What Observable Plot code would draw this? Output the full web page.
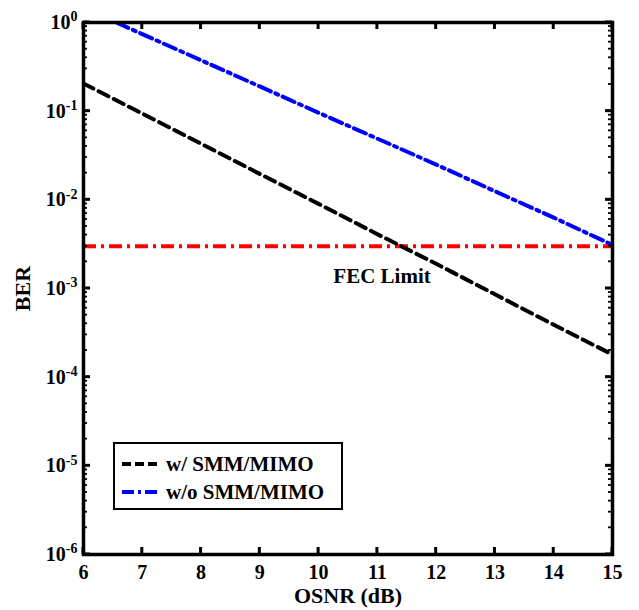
<!DOCTYPE html>
<html>
<head>
<meta charset="utf-8">
<script src="https://cdn.jsdelivr.net/npm/d3@7"></script>
<script src="https://cdn.jsdelivr.net/npm/@observablehq/plot@0.6"></script>
<style>
  body { margin: 0; background: #fff; }
  #chart svg { display: block; }
</style>
</head>
<body>
<div id="chart"></div>
<script>
// OSNR (dB) values
const osnrWith = [6, 7, 8, 9, 10, 11, 12, 13, 14, 15];
// BER with SMM/MIMO (black dashed)
const berWith = [0.205, 0.094, 0.043, 0.0196, 0.009, 0.0041, 0.0019, 8.6e-4, 3.9e-4, 1.8e-4];
// BER without SMM/MIMO (blue dash-dot)
const osnrWithout = [6.56, 7, 8, 9, 10, 11, 12, 13, 14, 15];
const berWithout = [1.0, 0.74, 0.375, 0.19, 0.096, 0.049, 0.025, 0.0125, 0.0063, 0.0031];
// FEC limit
const fecLimit = 3.0e-3;
const fecLabel = "FEC Limit";
const fecLabelOsnr = 10.25;
// Series names
const seriesNames = ["w/ SMM/MIMO", "w/o SMM/MIMO"];
// Tick values
const xTicks = [6, 7, 8, 9, 10, 11, 12, 13, 14, 15];
const yExponents = [-6, -5, -4, -3, -2, -1, 0];
const yMinorMultipliers = [2, 3, 4, 5, 6, 7, 8, 9];

const yTicks = yExponents.map(e => Math.pow(10, e));
const yMinor = yExponents.slice(0, -1).flatMap(e => yMinorMultipliers.map(m => m * Math.pow(10, e)));

const withData = osnrWith.map((x, i) => ({x, y: berWith[i]}));
const withoutData = osnrWithout.map((x, i) => ({x, y: berWithout[i]}));

const W = 639, H = 610, mL = 83, mR = 27, mT = 22, mB = 56;
const majorLen = 7, minorLen = 4;

const font = "'Liberation Serif', 'Times New Roman', serif";
const dashBlack = "11,6";
const dashDot = "13,5,3,5";

const plot = Plot.plot({
  width: W,
  height: H,
  marginLeft: mL,
  marginRight: mR,
  marginTop: mT,
  marginBottom: mB,
  style: {fontFamily: font, fontWeight: "bold", fontSize: "20px", background: "#fff", color: "#000"},
  x: {domain: [6, 15]},
  y: {type: "log", domain: [1e-6, 1]},
  marks: [
    Plot.ruleY([fecLimit], {stroke: "#ff0000", strokeWidth: 4, strokeDasharray: dashDot}),
    Plot.line(withoutData, {x: "x", y: "y", stroke: "#0000ff", strokeWidth: 4, strokeDasharray: dashDot, clip: true}),
    Plot.line(withData, {x: "x", y: "y", stroke: "#000", strokeWidth: 4, strokeDasharray: dashBlack, clip: true}),
    Plot.text([{x: fecLabelOsnr, y: fecLimit, t: fecLabel}], {x: "x", y: "y", text: "t", textAnchor: "start", dy: 30, fontSize: 21, fontWeight: "bold"}),
    Plot.axisX(xTicks, {anchor: "bottom", tickSize: 0, tickPadding: 10, fontSize: 20, tickFormat: d => String(d),
      label: "OSNR (dB)", labelAnchor: "center", labelArrow: "none", labelOffset: 48}),
    Plot.axisY(yTicks, {anchor: "left", tickSize: 0, tickPadding: 6, fontSize: 20, tickFormat: d => "10^" + Math.round(Math.log10(d)),
      label: "BER", labelAnchor: "center", labelArrow: "none", labelOffset: 69}),
    Plot.frame({stroke: "#000", strokeWidth: 3.5})
  ]
});

document.getElementById("chart").appendChild(plot);
const svg = d3.select(plot);
const xs = plot.scale("x"), ys = plot.scale("y");
const x0 = xs.range[0], x1 = xs.range[1];
const yBottom = ys.apply(1e-6), yTop = ys.apply(1);

// inward ticks using Plot's scales
const tg = svg.append("g").attr("stroke", "#000").attr("fill", "none");
xTicks.forEach(v => {
  const px = xs.apply(v);
  tg.append("line").attr("x1", px).attr("x2", px).attr("y1", yBottom).attr("y2", yBottom - majorLen).attr("stroke-width", 3);
  tg.append("line").attr("x1", px).attr("x2", px).attr("y1", yTop).attr("y2", yTop + majorLen).attr("stroke-width", 3);
});
yTicks.forEach(v => {
  const py = ys.apply(v);
  tg.append("line").attr("x1", x0).attr("x2", x0 + majorLen).attr("y1", py).attr("y2", py).attr("stroke-width", 3);
  tg.append("line").attr("x1", x1).attr("x2", x1 - majorLen).attr("y1", py).attr("y2", py).attr("stroke-width", 3);
});
yMinor.forEach(v => {
  const py = ys.apply(v);
  tg.append("line").attr("x1", x0).attr("x2", x0 + minorLen).attr("y1", py).attr("y2", py).attr("stroke-width", 1.8);
  tg.append("line").attr("x1", x1).attr("x2", x1 - minorLen).attr("y1", py).attr("y2", py).attr("stroke-width", 1.8);
});

// superscript exponents
svg.selectAll("text").each(function() {
  const t = this.textContent;
  const m = /^10\^(-?\d+)$/.exec(t);
  if (m) {
    const el = d3.select(this);
    el.text("");
    el.append("tspan").text("10");
    el.append("tspan").attr("dy", "-0.55em").attr("font-size", "14px").text(m[1]);
  }
});
svg.selectAll("[aria-label='x-axis label'] text, [aria-label='y-axis label'] text").attr("font-size", 22);

// legend
const lg = svg.append("g").attr("font-family", font).attr("font-weight", "bold").attr("font-size", 21)
  .attr("text-anchor", "start");
lg.append("rect").attr("x", 114).attr("y", 443).attr("width", 228).attr("height", 66)
  .attr("fill", "#fff").attr("stroke", "#000").attr("stroke-width", 2);
const items = [
  {name: seriesNames[0], color: "#000", dash: "9,4"},
  {name: seriesNames[1], color: "#0000ff", dash: "12,4,3,4"}
];
items.forEach((d, i) => {
  const cy = 464 + i * 28;
  lg.append("line").attr("x1", 122).attr("x2", 160).attr("y1", cy).attr("y2", cy)
    .attr("stroke", d.color).attr("stroke-width", 4).attr("stroke-dasharray", d.dash);
  lg.append("text").attr("x", 166).attr("y", cy).attr("dy", "0.35em").attr("text-anchor", "start").text(d.name);
});
</script>
</body>
</html>
